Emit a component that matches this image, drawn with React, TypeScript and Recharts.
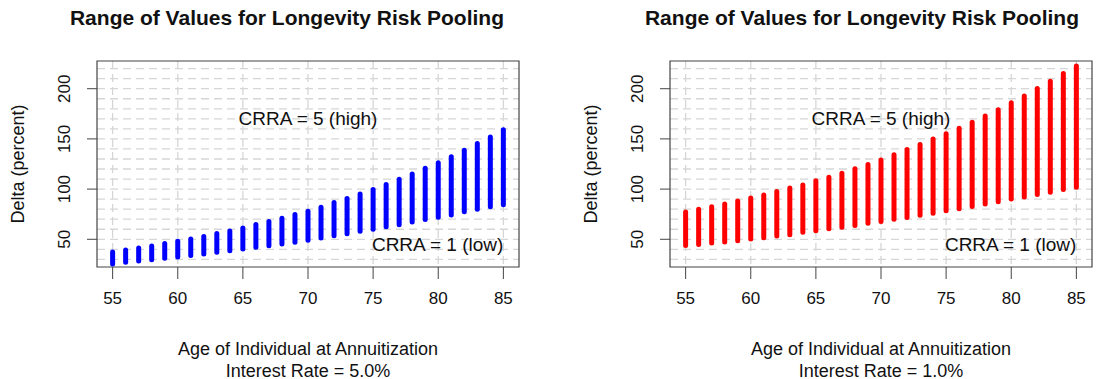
import React from 'react';
import {
  ComposedChart,
  Bar,
  XAxis,
  YAxis,
  CartesianGrid,
  ReferenceArea,
  ReferenceDot,
} from 'recharts';

const ages = [55, 56, 57, 58, 59, 60, 61, 62, 63, 64, 65, 66, 67, 68, 69, 70, 71, 72, 73, 74, 75, 76, 77, 78, 79, 80, 81, 82, 83, 84, 85];

// interest rate 5.0%
const rate5High = [37.4, 39.4, 41.4, 43.4, 45.7, 48, 50.4, 52.7, 55.7, 58.3, 61.3, 64.7, 67.7, 71, 74.7, 78, 82, 86.7, 90.7, 95.2, 99.7, 104.7, 109.7, 115, 120.7, 126.3, 132.3, 138.7, 145.3, 152, 159.2];
const rate5Low = [25.4, 27.1, 28.5, 29.6, 31.2, 32.4, 33.8, 35.3, 37, 38.7, 40.3, 42, 43.5, 45.3, 47, 49, 51.3, 53.6, 55.4, 57.9, 59.9, 62.5, 64.5, 67.2, 69.6, 71.9, 74.3, 77.4, 79.9, 82.3, 84.4];

// interest rate 1.0%
const rate1High = [77.2, 79.9, 82.5, 85.2, 88.2, 91.2, 94.1, 97.7, 101.1, 104.2, 108.2, 111.9, 115.9, 120.2, 124.4, 129, 134.3, 139.5, 144.5, 149.9, 155.2, 160.6, 166.6, 172.8, 179.1, 186.1, 192.7, 200.2, 207.4, 215.2, 222.5];
const rate1Low = [43.7, 44.7, 46.3, 47.3, 48.6, 50.3, 51.6, 53.3, 54.6, 56.9, 58.6, 60.5, 62.1, 63.8, 65.9, 67.6, 70, 71.7, 73.9, 75.9, 78.5, 80.5, 82.7, 85.1, 87.4, 90.1, 92.1, 94.5, 96.8, 99.5, 101.9];

const xTicks = [55, 60, 65, 70, 75, 80, 85];
const yTicks = [50, 100, 150, 200];
const xGrid = [55, 60, 65, 70, 75, 80, 85];
const yGrid = [30, 40, 50, 60, 70, 80, 90, 100, 110, 120, 130, 140, 150, 160, 170, 180, 190, 200, 210, 220];

const X_DOMAIN: [number, number] = [53.8, 86.2];
const Y_DOMAIN: [number, number] = [22.4, 227.6];

const FONT = '"Liberation Sans", Arial, Helvetica, sans-serif';
const INK = '#111';
const FRAME = '#444';
const GRID = '#d6d6d6';

const CHART_W = 558;
const CHART_H = 379;

// grid positions: use the axis scale when we get one, else map over the plot offset
const gridY = (props: any) => {
  const scale = props?.yAxis?.scale;
  if (typeof scale === 'function') return yGrid.map((v) => scale(v));
  const { top, height } = props.offset;
  return yGrid.map((v) => top + ((Y_DOMAIN[1] - v) / (Y_DOMAIN[1] - Y_DOMAIN[0])) * height);
};

const gridX = (props: any) => {
  const scale = props?.xAxis?.scale;
  if (typeof scale === 'function') return xGrid.map((v) => scale(v));
  const { left, width } = props.offset;
  return xGrid.map((v) => left + ((v - X_DOMAIN[0]) / (X_DOMAIN[1] - X_DOMAIN[0])) * width);
};

function RangeStick(props: any) {
  const { x, y, width, height, fill } = props;
  if (x == null || y == null) return null;
  const cx = x + width / 2;
  return (
    <line
      x1={cx}
      y1={y}
      x2={cx}
      y2={y + height}
      stroke={fill}
      strokeWidth={5}
      strokeLinecap="round"
    />
  );
}

function XTick(props: any) {
  const { x, y, payload } = props;
  return (
    <text x={x} y={y + 25} textAnchor="middle" fontSize={17} fontFamily={FONT} fill={INK}>
      {payload.value}
    </text>
  );
}

function YTick(props: any) {
  const { x, y, payload } = props;
  const cx = x - 23;
  return (
    <text
      x={cx}
      y={y}
      dy="0.35em"
      textAnchor="middle"
      fontSize={17}
      fontFamily={FONT}
      fill={INK}
      transform={`rotate(-90, ${cx}, ${y})`}
    >
      {payload.value}
    </text>
  );
}

interface PanelProps {
  high: number[];
  low: number[];
  color: string;
  rateLabel: string;
}

function Panel({ high, low, color, rateLabel }: PanelProps) {
  const data = ages.map((age, i) => ({ age, range: [low[i], high[i]] }));

  return (
    <ComposedChart
      width={CHART_W}
      height={CHART_H}
      data={data}
      margin={{ top: 61, right: 39, bottom: 0, left: 0 }}
    >
      <CartesianGrid
        stroke={GRID}
        strokeWidth={1.3}
        strokeDasharray="8 5"
        horizontalCoordinatesGenerator={gridY}
        verticalCoordinatesGenerator={gridX}
      />
      <XAxis
        dataKey="age"
        type="number"
        domain={X_DOMAIN}
        ticks={xTicks}
        axisLine={false}
        tickLine={{ stroke: FRAME }}
        tickSize={12}
        tickMargin={0}
        height={112}
        tick={<XTick />}
        label={{
          content: (p: any) => {
            const vb = p.viewBox;
            const cx = vb.x + vb.width / 2;
            return (
              <g fontFamily={FONT} fontSize={18} fill={INK} textAnchor="middle">
                <text x={cx} y={vb.y + 88}>Age of Individual at Annuitization</text>
                <text x={cx} y={vb.y + 109.5}>{rateLabel}</text>
              </g>
            );
          },
        }}
      />
      <YAxis
        type="number"
        domain={Y_DOMAIN}
        ticks={yTicks}
        width={97}
        axisLine={false}
        tickLine={{ stroke: FRAME }}
        tickSize={10}
        tickMargin={0}
        tick={<YTick />}
        label={{
          content: (p: any) => {
            const vb = p.viewBox;
            const cx = vb.x + 18;
            const cy = vb.y + vb.height / 2;
            return (
              <text
                x={cx}
                y={cy}
                dy="0.35em"
                textAnchor="middle"
                fontFamily={FONT}
                fontSize={18}
                fill={INK}
                transform={`rotate(-90, ${cx}, ${cy})`}
              >
                Delta (percent)
              </text>
            );
          },
        }}
      />
      <Bar dataKey="range" barSize={5} fill={color} isAnimationActive={false} shape={<RangeStick />} />
      <ReferenceDot
        x={70}
        y={170}
        r={0}
        fill="none"
        stroke="none"
        label={{
          content: (p: any) => (
            <text x={p.viewBox.x} y={p.viewBox.y} dy="0.35em" textAnchor="middle" fontFamily={FONT} fontSize={19} fill={INK}>
              CRRA = 5 (high)
            </text>
          ),
        }}
      />
      <ReferenceDot
        x={85}
        y={45}
        r={0}
        fill="none"
        stroke="none"
        label={{
          content: (p: any) => (
            <text x={p.viewBox.x} y={p.viewBox.y} dy="0.35em" textAnchor="end" fontFamily={FONT} fontSize={19} fill={INK}>
              CRRA = 1 (low)
            </text>
          ),
        }}
      />
      <ReferenceArea
        x1={X_DOMAIN[0]}
        x2={X_DOMAIN[1]}
        y1={Y_DOMAIN[0]}
        y2={Y_DOMAIN[1]}
        fill="none"
        fillOpacity={0}
        stroke={FRAME}
        strokeWidth={1.2}
      />
    </ComposedChart>
  );
}

export default function App() {
  return (
    <div style={{ position: 'absolute', left: 0, top: 0, width: 1117, height: 379, background: '#fff', overflow: 'hidden' }}>
      <svg width={1117} height={40} style={{ position: 'absolute', left: 0, top: 0 }}>
        <g fontFamily={FONT} fontSize={21} fontWeight="bold" fill={INK} textAnchor="middle">
          <text x={287} y={25}>Range of Values for Longevity Risk Pooling</text>
          <text x={862} y={25}>Range of Values for Longevity Risk Pooling</text>
        </g>
      </svg>
      <div style={{ position: 'absolute', left: 0, top: 0 }}>
        <Panel high={rate5High} low={rate5Low} color="#0000ff" rateLabel="Interest Rate = 5.0%" />
      </div>
      <div style={{ position: 'absolute', left: 573, top: 0 }}>
        <Panel high={rate1High} low={rate1Low} color="#ff0000" rateLabel="Interest Rate = 1.0%" />
      </div>
    </div>
  );
}
